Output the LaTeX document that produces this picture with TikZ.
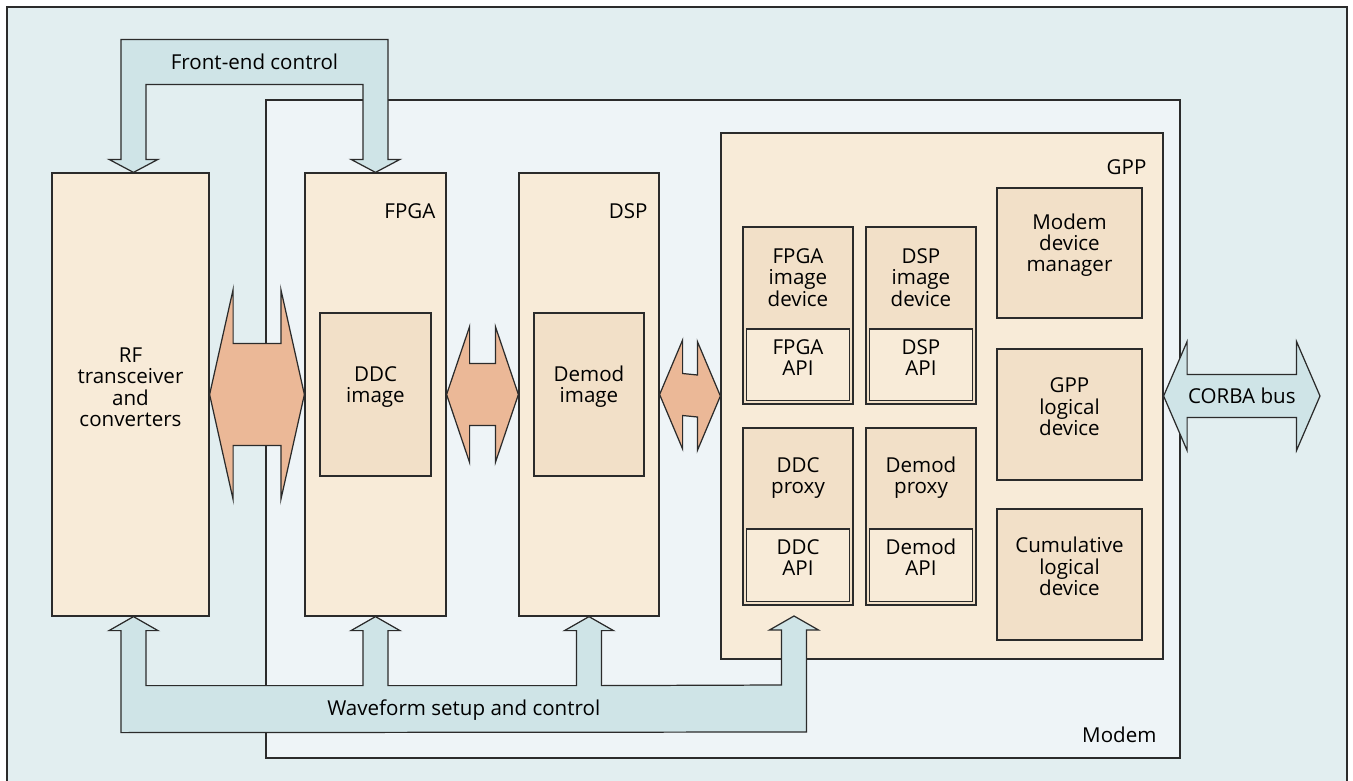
\documentclass[tikz,border=0pt]{standalone}
\usepackage{fontspec}
\setmainfont{Open Sans}
\usetikzlibrary{positioning,fit,calc}

\definecolor{framebg}{HTML}{E2EEF0}
\definecolor{modembg}{HTML}{EEF4F7}
\definecolor{busblue}{HTML}{CFE4E7}
\definecolor{boxbg}{HTML}{F8EBD8}
\definecolor{innerbg}{HTML}{F2E0C8}
\definecolor{linkorange}{HTML}{EBB897}
\definecolor{linegray}{HTML}{2B2B2B}

\begin{document}
\begin{tikzpicture}[
  x=0.02cm, y=-0.02cm,
  every node/.style={font=\fontsize{11.7}{12.2}\selectfont, align=center},
  edge/.style={draw=linegray, line width=0.7pt},
  modembox/.style={rectangle, edge, fill=modembg, inner sep=0pt},
  hwbox/.style={rectangle, edge, fill=boxbg, inner sep=0pt},
  imgbox/.style={rectangle, edge, fill=innerbg, inner sep=0pt},
  apibox/.style={rectangle, edge, fill=boxbg, inner sep=0pt},
  busarrow/.style={edge, fill=busblue, line join=miter},
  linkarrow/.style={edge, fill=linkorange, line join=miter}
]
  \useasboundingbox (0,0) rectangle (1353,781);

  % outer frame and modem
  \fill[framebg] (7,7) rectangle (1347,781);
  \draw[edge] (7,781) -- (7,7) -- (1347,7) -- (1347,781);
  \node[modembox, fit={(266,100) (1180,758)}] (modem) {};
  \node[anchor=east] (modemlbl) at ($(modem.south east)+(-18,-24)$) {Modem};

  % hardware blocks
  \node[hwbox, fit={(52,173) (209,616)}] (rf) {RF\\transceiver\\and\\converters};
  \node[hwbox, fit={(305,173) (446,616)}] (fpga) {};
  \node[hwbox, fit={(519,173) (659,616)}] (dsp) {};
  \node[hwbox, fit={(721,133) (1163,659)}] (gpp) {};
  \node[anchor=east] (fpgalbl) at ($(fpga.north east)+(-5,39)$) {FPGA};
  \node[anchor=east] (dsplbl) at ($(dsp.north east)+(-6,39)$) {DSP};
  \node[anchor=east] (gpplbl) at ($(gpp.north east)+(-11,35)$) {GPP};

  \node[imgbox, fit={(320,313) (431,476)}] (ddcimg) {DDC\\image};
  \node[imgbox, fit={(534,313) (644,476)}] (demodimg) {Demod\\image};

  % GPP contents
  \node[imgbox, fit={(743,227) (853,404)}] (fpgadev) {};
  \node[apibox, fit={(746.5,329) (849.5,400.5)}] (fpgaapi) {FPGA\\API};
  \node at ($(fpgadev.north)!0.5!(fpgaapi.north)$) {FPGA\\image\\device};

  \node[imgbox, fit={(866,227) (976,404)}] (dspdev) {};
  \node[apibox, fit={(869.5,329) (972.5,400.5)}] (dspapi) {DSP\\API};
  \node at ($(dspdev.north)!0.5!(dspapi.north)$) {DSP\\image\\device};

  \node[imgbox, fit={(743,428) (853,605)}] (ddcprx) {};
  \node[apibox, fit={(746.5,529) (849.5,601.5)}] (ddcapi) {DDC\\API};
  \node at ($(ddcprx.north)!0.5!(ddcapi.north)$) {DDC\\proxy};

  \node[imgbox, fit={(866,428) (976,605)}] (demodprx) {};
  \node[apibox, fit={(869.5,529) (972.5,601.5)}] (demodapi) {Demod\\API};
  \node at ($(demodprx.north)!0.5!(demodapi.north)$) {Demod\\proxy};

  \node[imgbox, fit={(997,188) (1142,318)}] (devmgr) {Modem\\device\\manager};
  \node[imgbox, fit={(997,349) (1142,480)}] (gpplog) {GPP\\logical\\device};
  \node[imgbox, fit={(997,509) (1142,640)}] (cumlog) {Cumulative\\logical\\device};

  % front-end control
  \coordinate (fe1) at ($(rf.north)+(3,0)$);
  \draw[busarrow] (fe1) -- ++(24.5,-13) -- ++(-12,0) -- ++(0,-75)
    -- ($(fpga.north)+(-12.5,-88)$) -- ++(0,75) -- ++(-12,0) -- (fpga.north)
    -- ++(24.5,-13) -- ++(-12,0) -- ++(0,-120) -- ($(fe1)+(-12.5,-133)$)
    -- ++(0,120) -- ++(-12,0) -- cycle;
  \node (felbl) at ($(fe1)!0.5!(fpga.north)+(0,-111)$) {Front-end control};

  % waveform setup and control
  \coordinate (wf1) at ($(rf.south)+(3,0)$);
  \coordinate (wf4) at (794,616);
  \draw[busarrow] (wf1) -- ++(24.5,14) -- ++(-12,0) -- ++(0,55)
    -- ($(fpga.south)+(-12.5,69)$) -- ++(0,-55) -- ++(-12,0) -- (fpga.south)
    -- ++(24.5,14) -- ++(-12,0) -- ++(0,55)
    -- ($(dsp.south)+(-12.5,69)$) -- ++(0,-55) -- ++(-12,0) -- (dsp.south)
    -- ++(24.5,14) -- ++(-12,0) -- ++(0,55)
    -- ($(wf4)+(-12.5,69)$) -- ++(0,-55) -- ++(-12,0) -- (wf4)
    -- ++(24.5,14) -- ++(-12,0) -- ++(0,102) -- ($(wf1)+(-12.5,116)$)
    -- ++(0,-102) -- ++(-12,0) -- cycle;
  \node (wflbl) at ($(wf1)!0.5!(wf4)+(0,94)$) {Waveform setup and control};

  % data links
  \draw[linkarrow] (rf.east) -- ++(23.5,-105) -- ++(0,54) -- ($(fpga.west)+(-23.5,-51)$)
    -- ++(0,-54) -- (fpga.west) -- ++(-23.5,105) -- ++(0,-54)
    -- ($(rf.east)+(23.5,51)$) -- ++(0,54) -- cycle;
  \draw[linkarrow] (fpga.east) -- ++(23,-68) -- ++(0,37) -- ($(dsp.west)+(-23,-31)$)
    -- ++(0,-37) -- (dsp.west) -- ++(-23,68) -- ++(0,-37)
    -- ($(fpga.east)+(23,31)$) -- ++(0,37) -- cycle;
  \draw[linkarrow] (dsp.east) -- ++(23,-54.5) -- ++(0,33.5) -- ($(gpp.west)+(-23,-21)$)
    -- ++(0,-33.5) -- (gpp.west) -- ++(-23,54.5) -- ++(0,-33.5)
    -- ($(dsp.east)+(23,21)$) -- ++(0,33.5) -- cycle;

  % CORBA bus
  \coordinate (corba) at (1320,396);
  \draw[busarrow] (gpp.east) -- ++(23.5,-54.5) -- ++(0,33) -- ($(corba)+(-23.5,-21.5)$)
    -- ++(0,-33) -- (corba) -- ++(-23.5,54.5) -- ++(0,-33)
    -- ($(gpp.east)+(23.5,21.5)$) -- ++(0,33) -- cycle;
  \node (corbalbl) at ($(gpp.east)!0.5!(corba)$) {CORBA bus};
\end{tikzpicture}
\end{document}
